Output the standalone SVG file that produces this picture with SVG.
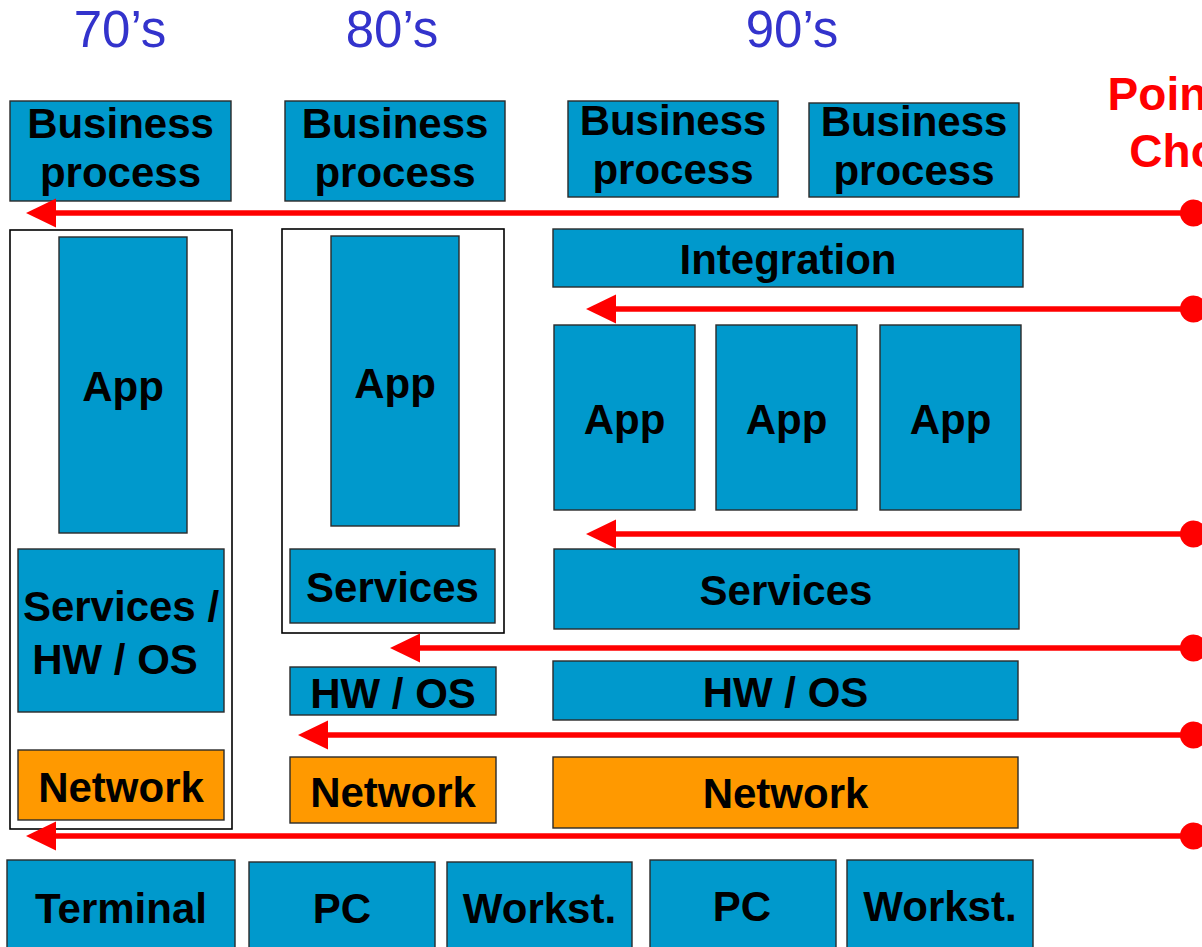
<svg xmlns="http://www.w3.org/2000/svg" width="1202" height="947" viewBox="0 0 1202 947">
<style>
.b{fill:#0099CC;stroke:#2a2a2a;stroke-width:1.4}
.o{fill:#FF9900;stroke:#2a2a2a;stroke-width:1.4}
.f{fill:#FFFFFF;stroke:#000000;stroke-width:1.6}
.t{font-family:"Liberation Sans",Arial,sans-serif;font-weight:bold;font-size:42px;fill:#000000;text-anchor:middle}
.d{font-family:"Liberation Sans",Arial,sans-serif;font-size:51px;fill:#3333CC;text-anchor:middle}
.r{font-family:"Liberation Sans",Arial,sans-serif;font-weight:bold;font-size:46px;fill:#FF0000;text-anchor:middle}
.ln{stroke:#FF0000;stroke-width:5.5;fill:none}
.ah{fill:#FF0000}
</style>
<rect width="1202" height="947" fill="#FFFFFF"/>
<g id="decades">
<text class="d" x="120" y="47">70’s</text>
<text class="d" x="392" y="47">80’s</text>
<text class="d" x="792" y="47">90’s</text>
</g>
<g id="points-of-choice">
<text class="r" x="1206" y="110">Points of</text>
<text class="r" x="1206" y="167">Choice</text>
</g>
<g id="frame70"><rect class="f" x="10" y="230" width="222" height="599"/></g>
<g id="frame80"><rect class="f" x="282" y="229" width="222" height="404"/></g>
<g id="bp1"><rect class="b" x="10" y="101" width="221" height="100"/><text class="t" x="120.5" y="138">Business</text><text class="t" x="120.5" y="187">process</text></g>
<g id="bp2"><rect class="b" x="285" y="101" width="220" height="100"/><text class="t" x="395" y="138">Business</text><text class="t" x="395" y="187">process</text></g>
<g id="bp3"><rect class="b" x="568" y="101" width="210" height="96"/><text class="t" x="673" y="135">Business</text><text class="t" x="673" y="184">process</text></g>
<g id="bp4"><rect class="b" x="809" y="103" width="210" height="94"/><text class="t" x="914" y="136">Business</text><text class="t" x="914" y="185">process</text></g>
<g id="app70"><rect class="b" x="59" y="237" width="128" height="296"/><text class="t" x="123" y="401">App</text></g>
<g id="svchw70"><rect class="b" x="18" y="549" width="206" height="163"/><text class="t" x="121" y="621">Services /</text><text class="t" x="115" y="674">HW / OS</text></g>
<g id="net70"><rect class="o" x="18" y="750" width="206" height="70"/><text class="t" x="121" y="802">Network</text></g>
<g id="app80"><rect class="b" x="331" y="236" width="128" height="290"/><text class="t" x="395" y="398">App</text></g>
<g id="svc80"><rect class="b" x="290" y="549" width="205" height="74"/><text class="t" x="392.5" y="602">Services</text></g>
<g id="hw80"><rect class="b" x="290" y="667" width="206" height="48"/><text class="t" x="393" y="708">HW / OS</text></g>
<g id="net80"><rect class="o" x="290" y="757" width="206" height="66"/><text class="t" x="393" y="807">Network</text></g>
<g id="integration"><rect class="b" x="553" y="229" width="470" height="58"/><text class="t" x="788" y="274">Integration</text></g>
<g id="app90a"><rect class="b" x="554" y="325" width="141" height="185"/><text class="t" x="624.5" y="434">App</text></g>
<g id="app90b"><rect class="b" x="716" y="325" width="141" height="185"/><text class="t" x="786.5" y="434">App</text></g>
<g id="app90c"><rect class="b" x="880" y="325" width="141" height="185"/><text class="t" x="950.5" y="434">App</text></g>
<g id="svc90"><rect class="b" x="554" y="549" width="465" height="80"/><text class="t" x="786" y="605">Services</text></g>
<g id="hw90"><rect class="b" x="553" y="661" width="465" height="59"/><text class="t" x="785.5" y="707">HW / OS</text></g>
<g id="net90"><rect class="o" x="553" y="757" width="465" height="71"/><text class="t" x="785.5" y="808">Network</text></g>
<g id="terminal"><rect class="b" x="7" y="860" width="228" height="95"/><text class="t" x="121" y="923">Terminal</text></g>
<g id="pc1"><rect class="b" x="249" y="862" width="186" height="95"/><text class="t" x="342" y="923">PC</text></g>
<g id="workst1"><rect class="b" x="447" y="862" width="185" height="95"/><text class="t" x="539.5" y="923">Workst.</text></g>
<g id="pc2"><rect class="b" x="650" y="860" width="186" height="95"/><text class="t" x="742" y="921">PC</text></g>
<g id="workst2"><rect class="b" x="847" y="860" width="186" height="95"/><text class="t" x="940" y="921">Workst.</text></g>
<g id="connectors">
<line class="ln" x1="1193" y1="213" x2="54" y2="213"/><polygon class="ah" points="26,213 56,198.5 56,227.5"/><circle class="ah" cx="1193.5" cy="213" r="13.5"/>
<line class="ln" x1="1193" y1="309" x2="614" y2="309"/><polygon class="ah" points="586,309 616,294.5 616,323.5"/><circle class="ah" cx="1193.5" cy="309" r="13.5"/>
<line class="ln" x1="1193" y1="534" x2="614" y2="534"/><polygon class="ah" points="586,534 616,519.5 616,548.5"/><circle class="ah" cx="1193.5" cy="534" r="13.5"/>
<line class="ln" x1="1193" y1="648" x2="418" y2="648"/><polygon class="ah" points="390,648 420,633.5 420,662.5"/><circle class="ah" cx="1193.5" cy="648" r="13.5"/>
<line class="ln" x1="1193" y1="735" x2="326" y2="735"/><polygon class="ah" points="298,735 328,720.5 328,749.5"/><circle class="ah" cx="1193.5" cy="735" r="13.5"/>
<line class="ln" x1="1193" y1="836" x2="54" y2="836"/><polygon class="ah" points="26,836 56,821.5 56,850.5"/><circle class="ah" cx="1193.5" cy="836" r="13.5"/>
</g>
</svg>
